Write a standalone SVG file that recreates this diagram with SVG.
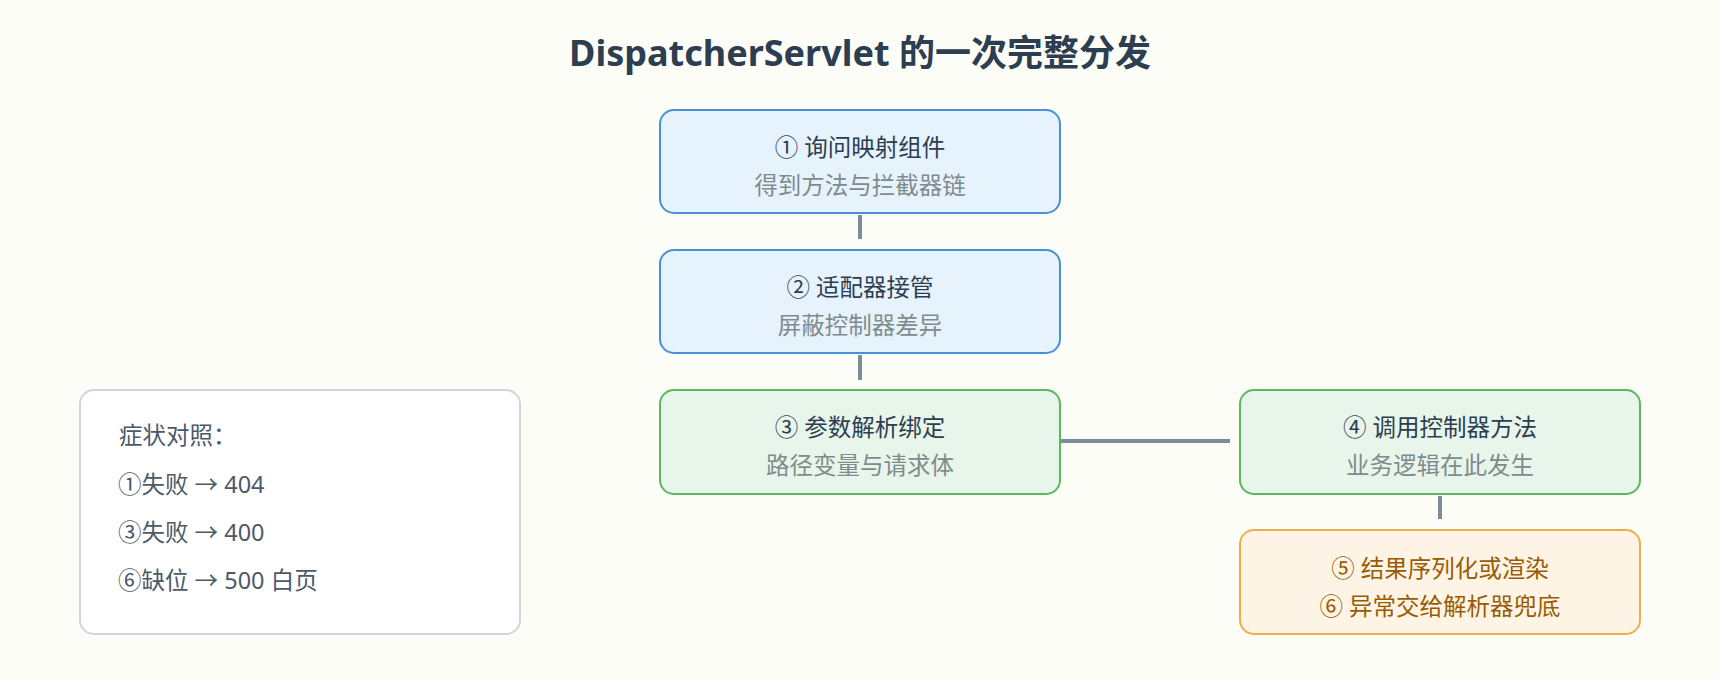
<svg xmlns="http://www.w3.org/2000/svg" width="1720" height="680" viewBox="0 0 1720 680">
<style>
text{font-family:"Noto Sans","Noto Sans CJK SC",sans-serif}
.t{font-size:36px;font-weight:bold;fill:#2c3e50;text-anchor:middle}
.h{font-size:23.5px;fill:#2c3e50;text-anchor:middle}
.s{font-size:23.5px;fill:#7f8c8d;text-anchor:middle}
.o{font-size:23.5px;fill:#9a5b00;text-anchor:middle}
.l{font-size:23.5px;fill:#4a5a6a}
.blue{fill:#e6f2fc;stroke:#4a90d9;stroke-width:2}
.green{fill:#e8f5ea;stroke:#5cb85c;stroke-width:2}
.orange{fill:#fef4e6;stroke:#f0ad4e;stroke-width:2}
.legend{fill:#ffffff;stroke:#d0d5da;stroke-width:2}
.c{stroke:#7b8d9b;stroke-width:4;fill:none}
</style>
<rect width="1720" height="680" fill="#fdfdf8"/>
<text class="t" x="860" y="66">DispatcherServlet 的一次完整分发</text>
<g id="connectors">
<line class="c" x1="860" y1="215" x2="860" y2="239"/>
<line class="c" x1="860" y1="355" x2="860" y2="380"/>
<line class="c" x1="1061" y1="441" x2="1230" y2="441"/>
<line class="c" x1="1440" y1="496" x2="1440" y2="519"/>
</g>
<g id="n1"><rect class="blue" x="660" y="110" width="400" height="103" rx="14"/>
<text class="h" x="860" y="156">① 询问映射组件</text><text class="s" x="860" y="194">得到方法与拦截器链</text></g>
<g id="n2"><rect class="blue" x="660" y="250" width="400" height="103" rx="14"/>
<text class="h" x="860" y="296">② 适配器接管</text><text class="s" x="860" y="334">屏蔽控制器差异</text></g>
<g id="n3"><rect class="green" x="660" y="390" width="400" height="104" rx="14"/>
<text class="h" x="860" y="436">③ 参数解析绑定</text><text class="s" x="860" y="474">路径变量与请求体</text></g>
<g id="n4"><rect class="green" x="1240" y="390" width="400" height="104" rx="14"/>
<text class="h" x="1440" y="436">④ 调用控制器方法</text><text class="s" x="1440" y="474">业务逻辑在此发生</text></g>
<g id="n5"><rect class="orange" x="1240" y="530" width="400" height="104" rx="14"/>
<text class="o" x="1440" y="577">⑤ 结果序列化或渲染</text><text class="o" x="1440" y="615">⑥ 异常交给解析器兜底</text></g>
<g id="legend"><rect class="legend" x="80" y="390" width="440" height="244" rx="14"/>
<text class="l" x="119" y="444">症状对照：</text>
<text class="l" x="118" y="493">①失败 → 404</text>
<text class="l" x="118" y="541">③失败 → 400</text>
<text class="l" x="118" y="589">⑥缺位 → 500 白页</text></g>
</svg>
